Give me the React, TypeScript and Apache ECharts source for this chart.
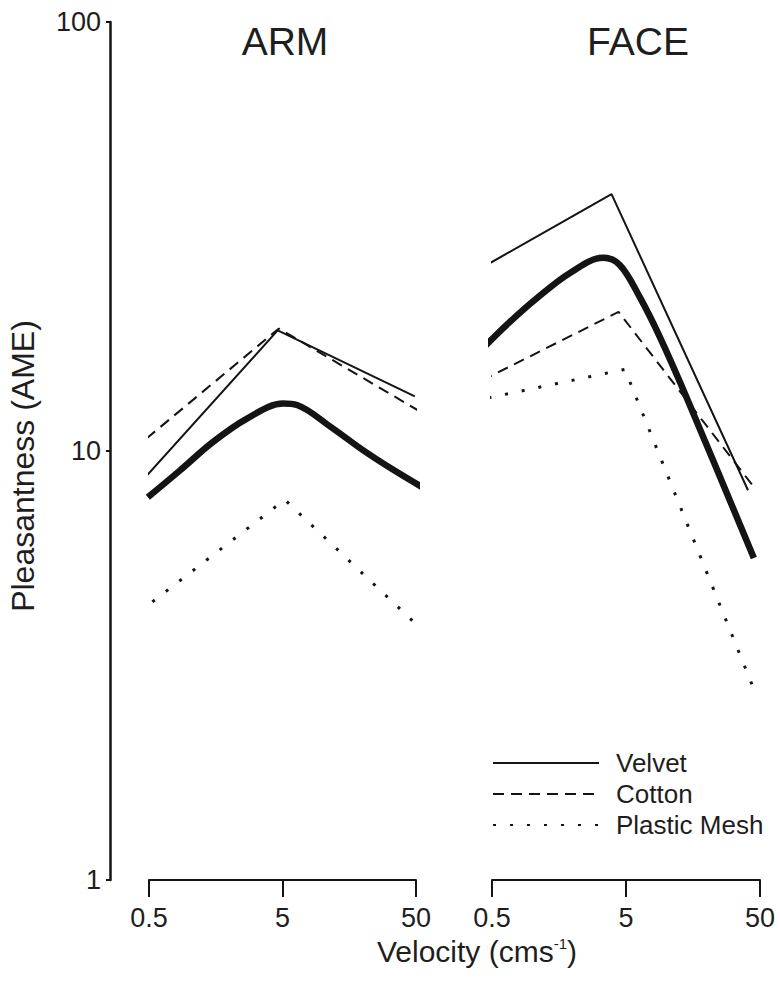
import React, { useEffect, useRef } from 'react';
import * as echarts from 'echarts';

// Tick labels
const xTickLabels = ['0.5', '5', '50'];
const xBase = 0.5;
const legendNames = ['Velvet', 'Cotton', 'Plastic Mesh'];
const panelTitles = ['ARM', 'FACE'];

// ARM panel (velocity cm/s, pleasantness AME)
const armVelvetX = [0.44, 4.6, 49];
const armVelvetY = [8.5, 19.1, 13.4];
const armCottonX = [0.48, 4.7, 55];
const armCottonY = [10.7, 19.3, 12.3];
const armMeshX = [0.53, 5.2, 59];
const armMeshY = [4.45, 7.7, 3.76];
const armFitX = [0.49, 0.85, 1.51, 2.71, 5.05, 6.42, 11.4, 20, 36, 57];
const armFitY = [7.8, 9.0, 10.5, 11.9, 12.9, 12.8, 11.4, 10.05, 8.93, 8.2];

// FACE panel
const faceVelvetX = [0.39, 3.9, 40.7];
const faceVelvetY = [26.4, 39.7, 8.1];
const faceCottonX = [0.42, 4.4, 45];
const faceCottonY = [14.6, 21.1, 8.24];
const faceMeshX = [0.47, 4.9, 47.5];
const faceMeshY = [13.3, 15.5, 2.67];
const faceFitX = [0.43, 0.68, 1.08, 1.91, 3.37, 4.51, 6.35, 8.97, 14.5, 45];
const faceFitY = [17.4, 20.0, 22.7, 26.0, 28.2, 27.1, 22.8, 18.4, 13.1, 5.63];

const FONT = '"Liberation Sans", Arial, Helvetica, sans-serif';
const INK = '#141414';

const lx = (v: number) => Math.log10(v / xBase);
const pts = (xs: number[], ys: number[]) => xs.map((x, i) => [lx(x), ys[i]]);

const styles: Record<string, any> = {
  Velvet: { type: 'solid', width: 2 },
  Cotton: { type: [11, 7], width: 2 },
  'Plastic Mesh': { type: [3, 14], width: 3 },
};

function lineSeries(name: string, panel: number, xs: number[], ys: number[]) {
  return {
    type: 'line',
    name,
    xAxisIndex: panel,
    yAxisIndex: panel,
    data: pts(xs, ys),
    symbol: 'none',
    clip: false,
    silent: true,
    itemStyle: { color: INK },
    lineStyle: { color: INK, ...styles[name] },
  };
}

function fitSeries(panel: number, xs: number[], ys: number[]) {
  return {
    type: 'line',
    name: 'fit' + panel,
    xAxisIndex: panel,
    yAxisIndex: panel,
    data: pts(xs, ys),
    symbol: 'none',
    clip: false,
    silent: true,
    smooth: 0.35,
    itemStyle: { color: INK },
    lineStyle: { color: INK, width: 6.5, cap: 'butt' },
  };
}

function xAxis(panel: number) {
  return {
    type: 'value',
    gridIndex: panel,
    min: 0,
    max: 2,
    interval: 1,
    axisLine: { show: true, onZero: false, lineStyle: { color: INK, width: 2 } },
    axisTick: { show: true, length: 17, lineStyle: { color: INK, width: 2 } },
    axisLabel: {
      formatter: (v: number) => xTickLabels[Math.round(v)],
      fontSize: 27,
      fontFamily: FONT,
      color: '#1e1e1e',
      margin: 23,
      lineHeight: 30,
    },
    splitLine: { show: false },
  };
}

function yAxis(panel: number) {
  return {
    type: 'log',
    logBase: 10,
    gridIndex: panel,
    min: 1,
    max: 100,
    show: panel === 0,
    position: 'left',
    offset: 39,
    axisLine: { show: true, onZero: false, lineStyle: { color: INK, width: 2.5 } },
    axisTick: { show: true, length: 4, lineStyle: { color: INK, width: 2 } },
    axisLabel: { fontSize: 27, fontFamily: FONT, color: '#1e1e1e', margin: 9 },
    splitLine: { show: false },
    minorTick: { show: false },
  };
}

export default function App() {
  const ref = useRef<HTMLDivElement>(null);
  useEffect(() => {
    if (!ref.current) return;
    const chart = echarts.init(ref.current, null, { renderer: 'svg' });
    chart.setOption({
      animation: false,
      backgroundColor: '#ffffff',
      grid: [
        { left: 149, width: 267, top: 22, height: 858 },
        { left: 492, width: 268, top: 22, height: 858 },
      ],
      xAxis: [xAxis(0), xAxis(1)],
      yAxis: [yAxis(0), yAxis(1)],
      legend: {
        data: legendNames,
        orient: 'vertical',
        left: 492,
        top: 750,
        padding: 0,
        itemWidth: 106,
        itemHeight: 14,
        itemGap: 5,
        selectedMode: false,
        itemStyle: { opacity: 0 },
        textStyle: {
          fontSize: 26,
          lineHeight: 26,
          fontFamily: FONT,
          color: '#1e1e1e',
          padding: [0, 0, 0, 12],
        },
      },
      series: [
        lineSeries('Velvet', 0, armVelvetX, armVelvetY),
        lineSeries('Cotton', 0, armCottonX, armCottonY),
        lineSeries('Plastic Mesh', 0, armMeshX, armMeshY),
        fitSeries(0, armFitX, armFitY),
        lineSeries('Velvet', 1, faceVelvetX, faceVelvetY),
        lineSeries('Cotton', 1, faceCottonX, faceCottonY),
        lineSeries('Plastic Mesh', 1, faceMeshX, faceMeshY),
        fitSeries(1, faceFitX, faceFitY),
      ],
      graphic: [
        {
          type: 'text',
          x: 285,
          y: 41,
          style: { text: panelTitles[0], font: `39px ${FONT}`, fill: '#1e1e1e', align: 'center', verticalAlign: 'middle' },
        },
        {
          type: 'text',
          x: 638,
          y: 41,
          style: { text: panelTitles[1], font: `39px ${FONT}`, fill: '#1e1e1e', align: 'center', verticalAlign: 'middle' },
        },
        {
          type: 'text',
          x: 23,
          y: 466,
          rotation: Math.PI / 2,
          style: {
            text: 'Pleasantness (AME)',
            font: `32px ${FONT}`,
            fill: '#1e1e1e',
            align: 'center',
            verticalAlign: 'middle',
          },
        },
        {
          type: 'text',
          x: 477,
          y: 951,
          style: {
            text: '{n|Velocity (cms}{s|-1}{n|)}',
            align: 'center',
            verticalAlign: 'middle',
            rich: {
              n: { fontSize: 30, fontFamily: FONT, fill: '#1e1e1e', lineHeight: 30 },
              s: { fontSize: 15, fontFamily: FONT, fill: '#1e1e1e', verticalAlign: 'top', lineHeight: 18 },
            },
          },
        },
      ],
    });
    return () => chart.dispose();
  }, []);
  return (
    <div
      ref={ref}
      style={{ position: 'fixed', left: 0, top: 0, width: 780, height: 995, background: '#fff' }}
    />
  );
}
